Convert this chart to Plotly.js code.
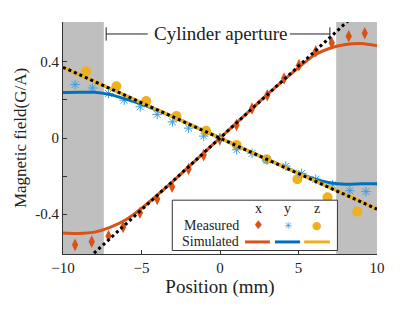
<!DOCTYPE html>
<html><head><meta charset="utf-8">
<script src="https://cdn.plot.ly/plotly-3.0.1.min.js"></script>
<style>html,body{margin:0;padding:0;background:#fff}#chart{width:415px;height:313px}</style>
</head><body><div id="chart"></div>
<script>
// Measured data
const measXpos = [-9.23,-8.17,-7.1,-6.17,-5.1,-4.0,-3.05,-2.0,-1.04,-0.01,1.05,2.04,3.01,4.08,5.03,6.1,7.12,8.2,9.22];
const measXval = [-0.562,-0.545,-0.515,-0.468,-0.393,-0.321,-0.256,-0.163,-0.09,-0.007,0.068,0.155,0.225,0.313,0.383,0.456,0.5,0.535,0.551];
const measYpos = [-9.23,-8.13,-7.1,-6.1,-5.08,-4.0,-3.03,-2.0,-1.04,0.0,1.06,2.04,3.0,4.19,5.2,6.1,7.17,8.27,9.3];
const measYval = [0.281,0.263,0.234,0.199,0.164,0.124,0.085,0.052,0.01,0.0,-0.062,-0.081,-0.116,-0.148,-0.186,-0.217,-0.247,-0.277,-0.282];
const measZpos = [-8.53,-6.6,-4.7,-2.77,-0.89,1.06,2.97,4.93,6.85,8.74];
const measZval = [0.351,0.272,0.194,0.116,0.038,-0.037,-0.112,-0.217,-0.312,-0.387];
// Simulated curves
const simPos = [-10,-9,-8,-7,-6,-5,-4,-3,-2,-1,0,1,2,3,4,5,6,7,8,9,10];
const simX = [-0.50,-0.502,-0.495,-0.47,-0.43,-0.37,-0.30,-0.228,-0.152,-0.076,0,0.076,0.152,0.228,0.30,0.37,0.435,0.472,0.492,0.497,0.485];
const simY = [0.239,0.241,0.24,0.228,0.205,0.178,0.145,0.112,0.075,0.038,0,-0.038,-0.075,-0.112,-0.148,-0.185,-0.215,-0.235,-0.243,-0.241,-0.24];
const simZ = [0.372,0.335,0.298,0.261,0.224,0.186,0.149,0.112,0.075,0.037,0,-0.037,-0.075,-0.112,-0.149,-0.186,-0.224,-0.261,-0.298,-0.335,-0.374];
// Linear fits (dotted)
const fitPos = [-10,10];
const fitZ = [0.372,-0.374];
const fitX = [-0.755,0.755];
// Axis ticks
const xTicks = [-10,-5,0,5,10];
const yTicks = [-0.4,-0.2,0,0.2,0.4];
const yTickText = ['-0.4','','0','','0.4'];

const cO='#D95319', cB='#0072BD', cY='#EDB120', cLB='#3a9ee0';
const F='"Liberation Serif", serif';

const traces = [
 {x:measZpos,y:measZval,mode:'markers',marker:{symbol:'circle',size:10,color:cY},type:'scatter'},
 {x:measXpos,y:measXval,mode:'markers',marker:{symbol:'diamond-tall',size:9,color:cO},type:'scatter'},
 {x:measYpos,y:measYval,mode:'markers',marker:{symbol:'asterisk-open',size:8,color:cLB,line:{color:cLB,width:1}},type:'scatter'},
 {x:simPos,y:simX,mode:'lines',line:{color:cO,width:3,shape:'spline',smoothing:0.8},type:'scatter'},
 {x:simPos,y:simY,mode:'lines',line:{color:cB,width:3,shape:'spline',smoothing:0.8},type:'scatter'},
 {x:simPos,y:simZ,mode:'lines',line:{color:cY,width:3.5},type:'scatter'},
 {x:fitPos,y:fitZ,mode:'lines',line:{color:'#000',width:3,dash:'dot'},type:'scatter'},
 {x:fitPos,y:fitX,mode:'lines',line:{color:'#000',width:3,dash:'dot'},type:'scatter'}
];

const ay = 0.547;
const ann = (text,x,y,size,color,family,xa) => ({text:text,xref:'paper',yref:'paper',x:x,y:y,xanchor:xa||'center',yanchor:'middle',showarrow:false,font:{family:family||F,size:size,color:color||'#222'}});
const rowH = 0.198, rowM = 0.125, rowS = 0.052;
const layout = {
 width:415,height:313,showlegend:false,
 margin:{l:63,r:38,t:22,b:59},
 paper_bgcolor:'#fff',plot_bgcolor:'#fff',
 font:{family:F,size:15,color:'#222'},
 xaxis:{range:[-10,10],tickvals:xTicks,ticks:'inside',ticklen:4,tickcolor:'#333',showline:true,linecolor:'#333',linewidth:1,showgrid:false,zeroline:false,
   tickfont:{family:F,size:15,color:'#222'},title:{text:'Position (mm)',font:{family:F,size:19,color:'#222'},standoff:3}},
 yaxis:{range:[-0.61,0.61],tickvals:yTicks,ticktext:yTickText,ticks:'inside',ticklen:4,tickcolor:'#333',showline:true,linecolor:'#333',linewidth:1,showgrid:false,zeroline:false,
   tickfont:{family:F,size:15,color:'#222'},title:{text:'Magnetic field(G/A)',font:{family:F,size:17,color:'#222'},standoff:4}},
 shapes:[
  {type:'rect',layer:'below',xref:'x',yref:'paper',x0:-10,x1:-7.4,y0:0,y1:1,fillcolor:'#bfbfbf',line:{width:0}},
  {type:'rect',layer:'below',xref:'x',yref:'paper',x0:7.4,x1:10,y0:0,y1:1,fillcolor:'#bfbfbf',line:{width:0}},
  {type:'line',xref:'x',yref:'y',x0:-7.25,x1:-4.6,y0:ay,y1:ay,line:{color:'#222',width:1}},
  {type:'line',xref:'x',yref:'y',x0:-7.25,x1:-7.25,y0:ay+0.035,y1:ay-0.035,line:{color:'#222',width:1}},
  {type:'line',xref:'x',yref:'y',x0:4.45,x1:7.0,y0:ay,y1:ay,line:{color:'#222',width:1}},
  {type:'line',xref:'x',yref:'y',x0:7.0,x1:7.0,y0:ay+0.035,y1:ay-0.035,line:{color:'#222',width:1}},
  {type:'rect',xref:'paper',yref:'paper',x0:0.348,x1:0.874,y0:0.015,y1:0.232,fillcolor:'#fff',line:{color:'#333',width:1}},
  {type:'line',xref:'paper',yref:'paper',x0:0.580,x1:0.659,y0:rowS,y1:rowS,line:{color:cO,width:3}},
  {type:'line',xref:'paper',yref:'paper',x0:0.675,x1:0.755,y0:rowS,y1:rowS,line:{color:cB,width:3}},
  {type:'line',xref:'paper',yref:'paper',x0:0.768,x1:0.850,y0:rowS,y1:rowS,line:{color:cY,width:3}}
 ],
 annotations:[
  {text:'Cylinder aperture',xref:'x',yref:'y',x:0.05,y:ay,showarrow:false,font:{family:F,size:19,color:'#222'},xanchor:'center',yanchor:'middle'},
  ann('x',0.622,rowH,14),
  ann('y',0.716,rowH,14),
  ann('z',0.808,rowH,14),
  ann('Measured',0.567,rowM,14,null,null,'right'),
  ann('Simulated',0.567,rowS,14,null,null,'right'),
  ann('\u2666',0.622,rowM,12,cO,'DejaVu Sans'),
  ann('\u2733',0.716,rowM,10,cLB,'DejaVu Sans'),
  ann('\u25CF',0.808,rowM,11,cY,'DejaVu Sans')
 ]
};
Plotly.newPlot('chart',traces,layout,{displayModeBar:false,staticPlot:true});
</script></body></html>
